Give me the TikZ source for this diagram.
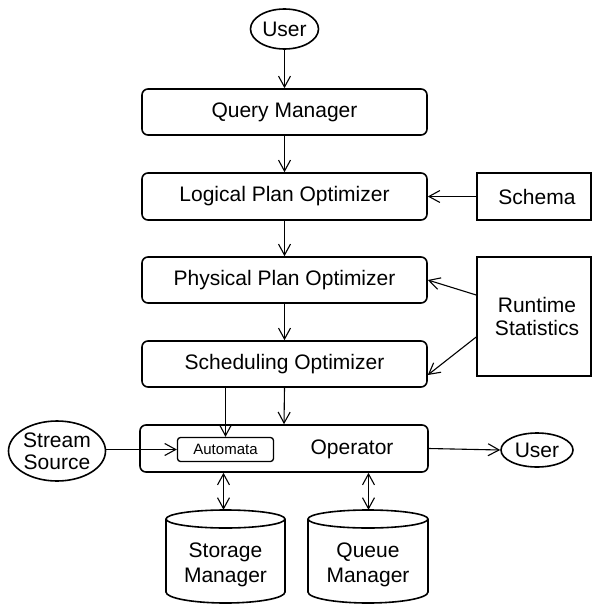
\documentclass[tikz,border=0pt]{standalone}
\usepackage{fontspec}
\setmainfont{Liberation Sans}
\usetikzlibrary{arrows.meta,shapes.geometric,calc}
\begin{document}
\begin{tikzpicture}[x=1pt,y=-1pt,
  font=\fontsize{21}{23}\selectfont,
  box/.style={draw,line width=1.6pt,rounded corners=6pt,minimum width=285pt,minimum height=46pt,inner sep=0pt},
  sqbox/.style={draw,line width=1.6pt,minimum width=114pt,inner sep=0pt,align=center},
  oval/.style={draw,ellipse,line width=1.6pt,inner sep=0pt,align=center},
  tip/.tip={Straight Barb[length=11pt,width=12pt,line width=1.1pt]},
  arr/.style={line width=1.1pt,-tip},
  darr/.style={line width=1.1pt,tip-tip},
  cyl/.style={line width=1.6pt},
  lbl/.style={inner sep=0pt,align=center}]
\useasboundingbox (0,0) rectangle (592,605);

\node[oval,minimum width=68pt,minimum height=40pt] (user1) at (284.5,29) {User};
\node[box] (qm) at (284.5,112) {Query Manager};
\node[box,minimum height=47pt] (lpo) at (284.5,196.5) {Logical Plan Optimizer};
\node[box] (ppo) at (284.5,280) {Physical Plan Optimizer};
\node[box] (so) at (284.5,364) {Scheduling Optimizer};
\node[box,minimum width=288pt,minimum height=47pt] (op) at (284,448.5) {};
\node[lbl] (optext) at (352,449) {Operator};
\node[draw,line width=1.3pt,rounded corners=3pt,minimum width=96pt,minimum height=24pt,inner sep=0pt,font=\fontsize{15}{17}\selectfont] (auto) at (225.5,449.5) {Automata};
\node[oval,minimum width=97pt,minimum height=60pt,font=\fontsize{21}{22}\selectfont] (ss) at (57,451) {Stream\\Source};
\node[oval,minimum width=72pt,minimum height=34pt] (user2) at (537,450) {User};
\node[sqbox,minimum height=47pt] (schema) at (534,196.5) {\hspace*{6pt}Schema};
\node[sqbox,minimum height=119pt,font=\fontsize{21}{22.5}\selectfont] (rs) at (534,316.5) {\hspace*{6pt}Runtime\\\hspace*{6pt}Statistics};

% cylinders
\node[inner sep=0pt,minimum width=119pt,minimum height=93pt] (stor) at (225.5,556.5) {};
\node[inner sep=0pt,minimum width=120pt,minimum height=93pt] (queue) at (368,556.5) {};
\draw[cyl] (225.5,519) ellipse [x radius=59.5pt, y radius=9pt];
\draw[cyl] (166,519) -- (166,592) arc[start angle=180,end angle=360,x radius=59.5pt,y radius=11pt] -- (285,519);
\draw[cyl] (368,519) ellipse [x radius=60pt, y radius=9pt];
\draw[cyl] (308,519) -- (308,592) arc[start angle=180,end angle=360,x radius=60pt,y radius=11pt] -- (428,519);
\node[lbl,font=\fontsize{21}{25}\selectfont] (stortext) at (225.5,565) {Storage\\Manager};
\node[lbl,font=\fontsize{21}{25}\selectfont] (queuetext) at (368,565) {Queue\\Manager};

% connectors
\draw[arr] (user1.south) -- (qm.north);
\draw[arr] (qm.south) -- (lpo.north);
\draw[arr] (lpo.south) -- (ppo.north);
\draw[arr] (ppo.south) -- (so.north);
\draw[arr] (schema.west) -- (lpo.east);
\draw[arr] ([yshift=21.5pt]rs.west) -- (ppo.east);
\draw[arr] ([yshift=-20.5pt]rs.west) -- ([yshift=-11pt]so.east);
\draw[arr] (so.south -| auto.north) -- (auto.north);
\draw[arr] (so.south) -- (op.north);
\draw[arr] (ss.east |- auto.west) -- (auto.west);
\draw[arr] (op.east) -- (user2.west);
\draw[darr] (op.south -| 223.5,0) -- (stor.north -| 223.5,0);
\draw[darr] (op.south -| 368.5,0) -- (queue.north -| 368.5,0);
\end{tikzpicture}
\end{document}
